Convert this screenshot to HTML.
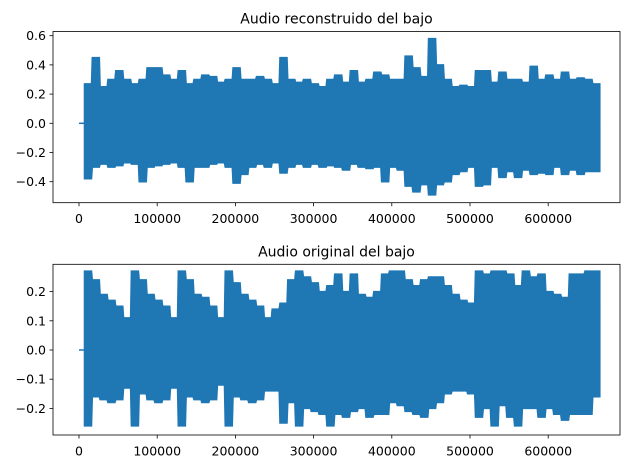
<!DOCTYPE html>
<html><head><meta charset="utf-8"><style>body{margin:0;background:#fff}svg{display:block;font-family:"DejaVu Sans","Liberation Sans",sans-serif}</style></head>
<body>
<svg id="fig" width="630" height="469" viewBox="0 0 630 469" xmlns="http://www.w3.org/2000/svg"></svg>
<script>
const xTicks=[0,100000,200000,300000,400000,500000,600000];
const topYTicks=[-0.4,-0.2,0.0,0.2,0.4,0.6];
const botYTicks=[-0.2,-0.1,0.0,0.1,0.2];
const binStep=10000;
const startSample=7000;
const topMax=[.27,.45,.25,.3,.36,.3,.27,.3,.38,.38,.33,.3,.36,.27,.3,.33,.32,.28,.3,.38,.3,.3,.32,.3,.27,.45,.3,.28,.3,.27,.25,.3,.33,.28,.36,.28,.3,.35,.33,.3,.3,.46,.38,.32,.58,.4,.3,.25,.26,.25,.36,.36,.28,.35,.3,.3,.28,.39,.3,.33,.3,.35,.3,.31,.3,.27];
const topMin=[-.38,-.3,-.28,-.3,-.29,-.27,-.28,-.4,-.3,-.29,-.28,-.27,-.3,-.4,-.3,-.3,-.28,-.27,-.3,-.41,-.35,-.3,-.28,-.3,-.27,-.34,-.3,-.28,-.3,-.28,-.3,-.29,-.3,-.32,-.28,-.3,-.31,-.3,-.4,-.3,-.32,-.43,-.47,-.42,-.49,-.42,-.4,-.35,-.33,-.3,-.43,-.42,-.3,-.37,-.33,-.37,-.32,-.35,-.34,-.35,-.3,-.35,-.32,-.35,-.33,-.33];
const botMax=[.27,.24,.19,.17,.15,.11,.27,.24,.19,.17,.15,.11,.27,.24,.19,.18,.15,.11,.27,.23,.19,.17,.15,.11,.14,.16,.24,.27,.25,.23,.2,.22,.26,.2,.26,.19,.18,.2,.26,.27,.27,.24,.22,.24,.25,.25,.22,.19,.17,.16,.27,.26,.27,.27,.26,.22,.27,.25,.26,.2,.19,.18,.26,.26,.27,.27];
const botMin=[-.26,-.16,-.17,-.18,-.17,-.13,-.26,-.15,-.17,-.18,-.17,-.13,-.26,-.16,-.17,-.18,-.17,-.12,-.26,-.16,-.17,-.18,-.17,-.14,-.14,-.25,-.18,-.26,-.2,-.21,-.22,-.26,-.22,-.23,-.21,-.2,-.23,-.22,-.22,-.18,-.19,-.21,-.22,-.23,-.2,-.18,-.15,-.14,-.14,-.15,-.23,-.2,-.26,-.19,-.23,-.26,-.2,-.2,-.23,-.2,-.22,-.24,-.22,-.22,-.22,-.16];
const NS='http://www.w3.org/2000/svg';
const svg=document.getElementById('fig');
function mk(t,a,p){const e=document.createElementNS(NS,t);for(const k in a)e.setAttribute(k,a[k]);(p||svg).appendChild(e);return e;}
const L=53,R=620;
function xs(v){return 79+v*0.000782;}
function fmt(v){const s=Math.abs(v).toFixed(1);return (v<-1e-9?'\u2212':'')+s;}
function panel(name,title,top,bottom,y0,ppu,yt,mx,mn){
  const g=mk('g',{});
  
  
  const ys=v=>y0-v*ppu;
  const t=mk('text',{x:(L+R)/2,y:top-8,'text-anchor':'middle','font-size':'14',fill:'#000'},g);
  t.textContent=title;
  
  
  const lead=mk('line',{x1:xs(0),x2:xs(startSample),y1:ys(0),y2:ys(0),stroke:'#1f77b4','stroke-width':1.5},g);
  
  
  let pts=[[xs(startSample),ys(0)]];
  for(let i=0;i<mx.length;i++){pts.push([xs(startSample+i*binStep),ys(mx[i])]);pts.push([xs(startSample+i*binStep+binStep*0.9),ys(mx[i])]);}
  for(let i=mn.length-1;i>=0;i--){pts.push([xs(startSample+i*binStep+binStep*0.9),ys(mn[i])]);pts.push([xs(startSample+i*binStep),ys(mn[i])]);}
  const wave=mk('polygon',{points:pts.map(p=>p.join(',')).join(' '),fill:'#1f77b4',stroke:'#1f77b4','stroke-width':1.5},g);
  
  
  const fr=mk('rect',{x:L,y:top,width:R-L,height:bottom-top,fill:'none',stroke:'#000','stroke-width':0.8},g);
  
  
  xTicks.forEach(v=>{const x=xs(v);
    mk('line',{x1:x,x2:x,y1:bottom,y2:bottom+3.5,stroke:'#000','stroke-width':0.8},g);
    const tx=mk('text',{x:x,y:bottom+20.5,'text-anchor':'middle','font-size':'12.5',fill:'#000'},g);
    tx.textContent=String(v);
    
    });
  yt.forEach(v=>{const y=ys(v);
    mk('line',{x1:L-3.5,x2:L,y1:y,y2:y,stroke:'#000','stroke-width':0.8},g);
    const ty=mk('text',{x:L-7,y:y+4.5,'text-anchor':'end','font-size':'12.5',fill:'#000'},g);
    ty.textContent=fmt(v);
    
    });
}
panel('top','Audio reconstruido del bajo',31.5,202.7,123.3,146,topYTicks,topMax,topMin);
panel('bottom','Audio original del bajo',264.3,435,350,292,botYTicks,botMax,botMin);
</script>
</body></html>
